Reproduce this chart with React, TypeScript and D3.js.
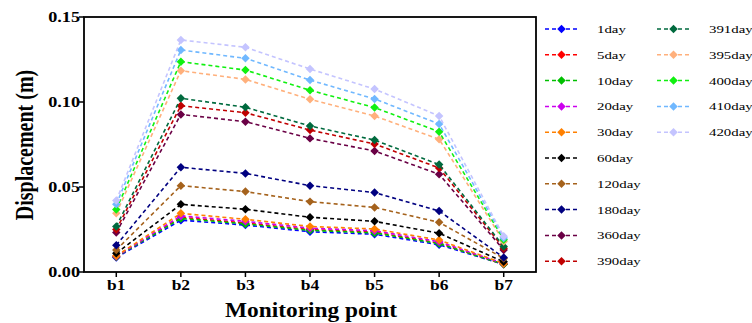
import React from "react";
import * as d3 from "d3";

const categories = ["b1", "b2", "b3", "b4", "b5", "b6", "b7"];
const seriesNames = ["1day", "5day", "10day", "20day", "30day", "60day", "120day", "180day", "360day", "390day", "391day", "395day", "400day", "410day", "420day"];
const seriesColors = ["#0000ff", "#ff0000", "#00c000", "#cc00ee", "#ff8000", "#000000", "#a5621c", "#000080", "#6a0045", "#c00000", "#006a3e", "#ffb07c", "#10f010", "#70b8ff", "#c4c4ff"];
const d1 = [0.0085, 0.0305, 0.0276, 0.0237, 0.0222, 0.016, 0.0045];
const d5 = [0.009, 0.0322, 0.0288, 0.025, 0.0235, 0.017, 0.0045];
const d10 = [0.009, 0.0315, 0.0283, 0.0245, 0.023, 0.0167, 0.0045];
const d20 = [0.0092, 0.033, 0.0298, 0.0258, 0.0243, 0.0178, 0.005];
const d30 = [0.0095, 0.0345, 0.031, 0.0268, 0.0253, 0.0188, 0.005];
const d60 = [0.011, 0.0398, 0.0369, 0.0322, 0.0298, 0.0228, 0.006];
const d120 = [0.013, 0.0508, 0.0473, 0.0414, 0.038, 0.0292, 0.008];
const d180 = [0.0158, 0.0616, 0.058, 0.0508, 0.0467, 0.0359, 0.0085];
const d360 = [0.0232, 0.0927, 0.0884, 0.0786, 0.0712, 0.0575, 0.013];
const d390 = [0.025, 0.0978, 0.0937, 0.0835, 0.0753, 0.0612, 0.014];
const d391 = [0.0268, 0.1022, 0.0969, 0.0859, 0.0776, 0.0632, 0.015];
const d395 = [0.0345, 0.1184, 0.1133, 0.1016, 0.0918, 0.0781, 0.018];
const d400 = [0.0368, 0.1237, 0.1188, 0.1069, 0.0967, 0.0825, 0.019];
const d410 = [0.0398, 0.1306, 0.1257, 0.1129, 0.1018, 0.0871, 0.02];
const d420 = [0.042, 0.1365, 0.1322, 0.1194, 0.1076, 0.0918, 0.021];
const seriesValues = [d1, d5, d10, d20, d30, d60, d120, d180, d360, d390, d391, d395, d400, d410, d420];
const yTicks = [0, 0.05, 0.1, 0.15];
const yTickLabels = ["0.00", "0.05", "0.10", "0.15"];

const W = 752, H = 323;
const left = 84, right = 536, top = 17, bottom = 272;
const serif = "Liberation Serif, Times New Roman, DejaVu Serif, serif";
const tf = { fontFamily: serif };

export default function App() {
  const x = d3.scalePoint<string>().domain(categories).range([left, right]).padding(0.5);
  const y = d3.scaleLinear().domain([0, 0.15]).range([bottom, top]);
  const line = d3.line<number>().x((_, i) => x(categories[i]) as number).y((v) => y(v));
  const sym = d3.symbol().type(d3.symbolSquare).size(36)();

  const legendRows = 10;
  return (
    <svg width={W} height={H} style={{ position: "absolute", left: 0, top: 0 }}>
      <rect width={W} height={H} fill="#fff" />
      {seriesValues.map((vals, si) => (
        <g key={si}>
          <path d={line(vals) || ""} fill="none" stroke={seriesColors[si]} strokeWidth={1.6} strokeDasharray="4,3" />
          {vals.map((v, i) => (
            <path key={i} d={sym || ""} fill={seriesColors[si]} transform={`translate(${x(categories[i])},${y(v)}) rotate(45)`} />
          ))}
        </g>
      ))}
      <rect x={left} y={top} width={right - left} height={bottom - top} fill="none" stroke="#000" strokeWidth={1.8} />
      {yTicks.map((t, i) => (
        <g key={i}>
          <line x1={left - 5} x2={left} y1={y(t)} y2={y(t)} stroke="#000" strokeWidth={1.5} />
          <text style={tf} transform={`translate(${left - 4},${y(t) + 5}) scale(1.3,1)`} textAnchor="end" fontSize={14} fontWeight="bold">{yTickLabels[i]}</text>
        </g>
      ))}
      {categories.map((c) => (
        <g key={c}>
          <line x1={x(c)} x2={x(c)} y1={bottom} y2={bottom + 5} stroke="#000" strokeWidth={1.5} />
          <text style={tf} transform={`translate(${x(c)},${290}) scale(1.25,1)`} textAnchor="middle" fontSize={14} fontWeight="bold">{c}</text>
        </g>
      ))}
      <text style={tf} x={(left + right) / 2 + 1} y={317} textAnchor="middle" fontSize={20} fontWeight="bold" textLength={172} lengthAdjust="spacingAndGlyphs">Monitoring point</text>
      <text style={tf} transform={`translate(33,145) rotate(-90) scale(1,1.3)`} textAnchor="middle" fontSize={20} fontWeight="bold">Displacement (m)</text>
      {seriesNames.map((name, si) => {
        const col = Math.floor(si / legendRows);
        const row = si % legendRows;
        const lx = col === 0 ? 545 : 657;
        const ly = 29 + row * 25.8;
        return (
          <g key={name}>
            <line x1={lx} x2={lx + 33} y1={ly} y2={ly} stroke={seriesColors[si]} strokeWidth={1.5} strokeDasharray="4,3" />
            <path d={sym || ""} fill={seriesColors[si]} transform={`translate(${lx + 16.5},${ly}) rotate(45)`} />
            <text style={tf} transform={`translate(${lx + 52},${ly + 4}) scale(1.35,1)`} fontSize={11}>{name}</text>
          </g>
        );
      })}
    </svg>
  );
}
